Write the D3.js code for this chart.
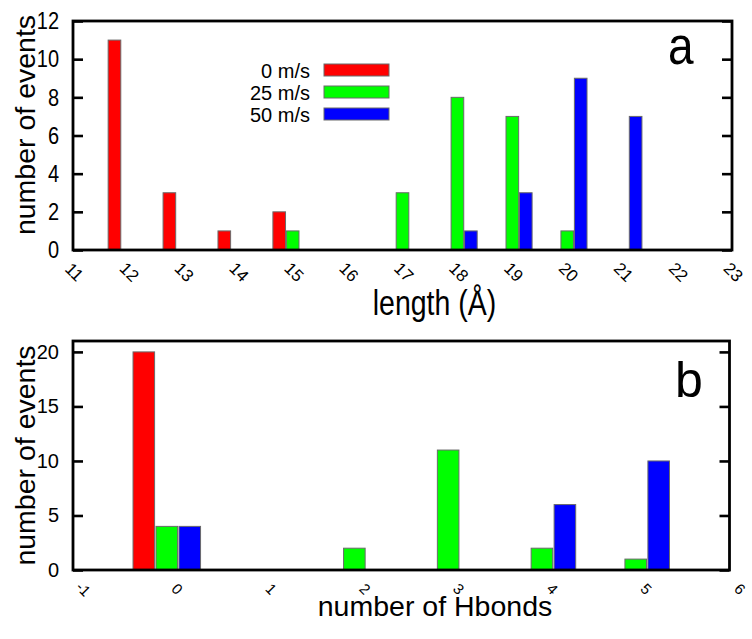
<!DOCTYPE html>
<html><head><meta charset="utf-8">
<script src="https://cdn.jsdelivr.net/npm/d3@7"></script>
<style>
body{margin:0;background:#fff;}
svg{display:block;font-family:"Liberation Sans",Arial,Helvetica,sans-serif;}
</style></head>
<body>
<svg id="chart" width="752" height="639"></svg>
<script>
// ---- data ----
const seriesNames = ["0 m/s", "25 m/s", "50 m/s"];
const seriesColors = ["#ff0000", "#00ff00", "#0000ff"];

const lengthCats = [12, 13, 14, 15, 17, 18, 19, 20, 21];
const len0  = [11, 3, 1, 2, 0, 0, 0, 0, 0];
const len25 = [0, 0, 0, 1, 3, 8, 7, 1, 0];
const len50 = [0, 0, 0, 0, 0, 1, 3, 9, 7];
const lengthTicks = [11,12,13,14,15,16,17,18,19,20,21,22,23];
const lengthYTicks = [0,2,4,6,8,10,12];

const hbondCats = [0, 2, 3, 4, 5];
const hb0  = [20, 0, 0, 0, 0];
const hb25 = [4, 2, 11, 2, 1];
const hb50 = [4, 0, 0, 6, 10];
const hbondTicks = [-1,0,1,2,3,4,5,6];
const hbondYTicks = [0,5,10,15,20];

const svg = d3.select("#chart");
const offsets = [-0.245, 0, 0.245];
const halfW = 0.115;

function panel(cfg) {
  const x = d3.scaleLinear().domain(cfg.xDomain).range([cfg.left, cfg.right]);
  const y = d3.scaleLinear().domain(cfg.yDomain).range([cfg.bottom, cfg.top]);
  const g = svg.append("g");

  // bars
  cfg.series.forEach((vals, si) => {
    const data = cfg.cats.map((c, i) => ({c, v: vals[i]})).filter(d => d.v > 0);
    g.selectAll(null).data(data).enter().append("rect")
      .attr("x", d => x(d.c + offsets[si] - halfW))
      .attr("width", d => x(d.c + offsets[si] + halfW) - x(d.c + offsets[si] - halfW))
      .attr("y", d => y(d.v))
      .attr("height", d => y(0) - y(d.v))
      .attr("fill", seriesColors[si])
      .attr("stroke", "#6a6a6a").attr("stroke-width", 1);
  });

  // left axis (inner ticks + labels)
  const ly = g.append("g").attr("transform", `translate(${cfg.left},0)`)
    .call(d3.axisLeft(y).tickValues(cfg.yTicks).tickSizeInner(-10).tickSizeOuter(0).tickPadding(14));
  ly.select(".domain").remove();
  ly.selectAll("line").attr("stroke", "#000").attr("stroke-width", 2.6);
  ly.selectAll("text").attr("font-size", 20).attr("fill", "#000")
    .attr("font-family", '"Liberation Sans",Arial,sans-serif')
    .attr("transform", `scale(1,${cfg.sy})`);

  // right axis ticks (mirror)
  const ry = g.append("g").attr("transform", `translate(${cfg.right},0)`)
    .call(d3.axisRight(y).tickValues(cfg.yTicks).tickSizeInner(-10).tickSizeOuter(0).tickFormat(""));
  ry.select(".domain").remove();
  ry.selectAll("line").attr("stroke", "#000").attr("stroke-width", 2.6);

  // bottom axis labels (rotated)
  const bx = g.append("g").attr("transform", `translate(0,${cfg.bottom})`)
    .call(d3.axisBottom(x).tickValues(cfg.xTicks).tickSize(0).tickFormat(d => d < 0 ? "-" + Math.abs(d) : d));
  bx.select(".domain").remove();
  bx.selectAll("text").attr("font-size", cfg.xFont).attr("fill", "#000")
    .attr("font-family", '"Liberation Sans",Arial,sans-serif')
    .attr("y", 0).attr("dy", "0.35em").attr("text-anchor", "middle")
    .attr("transform", `translate(${cfg.xlx},${cfg.xly}) rotate(45)`);

  // frame
  g.append("rect").attr("x", cfg.left).attr("y", cfg.top)
    .attr("width", cfg.right - cfg.left).attr("height", cfg.bottom - cfg.top)
    .attr("fill", "none").attr("stroke", "#000").attr("stroke-width", 2.8);

  // y title
  g.append("text").attr("transform", `translate(35,${cfg.ytY}) rotate(-90)`)
    .attr("text-anchor", "middle").attr("font-size", 28.5).text("number of events");
  // x title
  g.append("text").attr("transform", `translate(${cfg.xtX},${cfg.xtY}) scale(1,${cfg.sy})`)
    .attr("text-anchor", "middle").attr("font-size", 28.5).text(cfg.xTitle);
  // panel letter
  g.append("text").attr("transform", `translate(${cfg.letterX},${cfg.letterY}) scale(1,${cfg.letterSy})`)
    .attr("font-size", cfg.letterSize).text(cfg.letter);
  return {x, y, g};
}

panel({
  xDomain: [11, 23], yDomain: [0, 12], left: 73, right: 732, top: 21, bottom: 250,
  cats: lengthCats, series: [len0, len25, len50], yTicks: lengthYTicks, xTicks: lengthTicks,
  sy: 1.2, xFont: 17, xlx: 1, xly: 22,
  ytY: 125, xtX: 434.5, xtY: 315, xTitle: "length (Å)",
  letter: "a", letterX: 668, letterY: 63.5, letterSize: 46, letterSy: 1.15
});

panel({
  xDomain: [-1, 6], yDomain: [0, 21], left: 73, right: 729.5, top: 341, bottom: 570,
  cats: hbondCats, series: [hb0, hb25, hb50], yTicks: hbondYTicks, xTicks: hbondTicks,
  sy: 1, xFont: 15, xlx: 10, xly: 19,
  ytY: 455.5, xtX: 435, xtY: 616, xTitle: "number of Hbonds",
  letter: "b", letterX: 675, letterY: 396.5, letterSize: 50, letterSy: 1
});

// legend (panel a)
const leg = svg.append("g");
seriesNames.forEach((name, i) => {
  const cy = 70 + i * 22;
  leg.append("text").attr("x", 310).attr("y", cy + 7.5).attr("text-anchor", "end")
    .attr("font-size", 20).text(name);
  leg.append("rect").attr("x", 324).attr("y", cy - 6).attr("width", 65).attr("height", 12)
    .attr("fill", seriesColors[i]).attr("stroke", "#6a6a6a").attr("stroke-width", 1);
});
</script>
</body></html>
